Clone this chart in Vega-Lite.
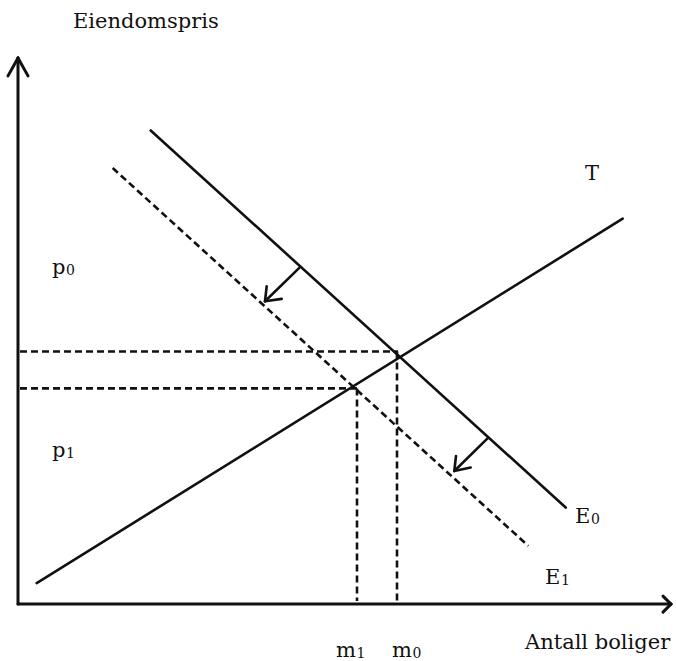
{
  "$schema": "https://vega.github.io/schema/vega-lite/v6.json",
  "width": 676,
  "height": 661,
  "padding": 0,
  "autosize": {"type": "fit", "contains": "padding"},
  "background": "white",
  "config": {"view": {"stroke": null}},
  "datasets": {
    "solid": [
      {"seg": "y-axis", "x1": 0, "y1": 0, "x2": 0, "y2": 109.4, "w": "axis"},
      {"seg": "y-arrow-l", "x1": -2, "y1": 105.8, "x2": 0, "y2": 109.4, "w": "axis"},
      {"seg": "y-arrow-r", "x1": 2, "y1": 105.8, "x2": 0, "y2": 109.4, "w": "axis"},
      {"seg": "x-axis", "x1": 0, "y1": 0, "x2": 130.6, "y2": 0, "w": "axis"},
      {"seg": "x-arrow-u", "x1": 129, "y1": 1.6, "x2": 130.6, "y2": 0, "w": "axis"},
      {"seg": "x-arrow-d", "x1": 129, "y1": -1.6, "x2": 130.6, "y2": 0, "w": "axis"},
      {"seg": "T", "x1": 3.74, "y1": 4.2, "x2": 120.94, "y2": 77.2, "w": "curve"},
      {"seg": "E0", "x1": 26.54, "y1": 94.86, "x2": 109.54, "y2": 19.34, "w": "curve"},
      {"seg": "shift1", "x1": 56.26, "y1": 67.34, "x2": 49.4, "y2": 60.66, "w": "curve"},
      {"seg": "shift1-a", "x1": 49.74, "y1": 63.66, "x2": 49.4, "y2": 60.66, "w": "curve"},
      {"seg": "shift1-b", "x1": 52.74, "y1": 61.14, "x2": 49.4, "y2": 60.66, "w": "curve"},
      {"seg": "shift2", "x1": 94.06, "y1": 33.34, "x2": 87.26, "y2": 26.66, "w": "curve"},
      {"seg": "shift2-a", "x1": 87.6, "y1": 29.66, "x2": 87.26, "y2": 26.66, "w": "curve"},
      {"seg": "shift2-b", "x1": 90.54, "y1": 27.34, "x2": 87.26, "y2": 26.66, "w": "curve"}
    ],
    "dashed": [
      {"seg": "E1", "x1": 18.94, "y1": 87.34, "x2": 102.06, "y2": 11.66},
      {"seg": "p0-line", "x1": 0.4, "y1": 50.6, "x2": 76, "y2": 50.6},
      {"seg": "p1-line", "x1": 0.4, "y1": 43.2, "x2": 67.8, "y2": 43.2},
      {"seg": "m1-line", "x1": 67.8, "y1": 43.2, "x2": 67.8, "y2": 0.6},
      {"seg": "m0-line", "x1": 75.8, "y1": 50.6, "x2": 75.8, "y2": 0.6}
    ],
    "labels": [
      {"label": "Eiendomspris", "x": 11, "y": 115.4},
      {"label": "T", "x": 113.4, "y": 85},
      {"label": "p", "x": 6.8, "y": 66.2},
      {"label": "p", "x": 6.8, "y": 29.4},
      {"label": "E", "x": 111.4, "y": 16.2},
      {"label": "E", "x": 105.4, "y": 4},
      {"label": "m", "x": 63.6, "y": -10.6},
      {"label": "m", "x": 74.8, "y": -10.6},
      {"label": "Antall boliger", "x": 101.4, "y": -9}
    ],
    "subs": [
      {"label": "0", "x": 9.6, "y": 66.0},
      {"label": "1", "x": 9.6, "y": 29.2},
      {"label": "0", "x": 114.6, "y": 16.0},
      {"label": "1", "x": 108.6, "y": 3.8},
      {"label": "1", "x": 67.7, "y": -10.8},
      {"label": "0", "x": 78.9, "y": -10.8}
    ]
  },
  "layer": [
    {
      "data": {"name": "solid"},
      "mark": {"type": "rule", "color": "#111111", "strokeCap": "round"},
      "encoding": {
        "x": {"field": "x1", "type": "quantitative", "scale": {"domain": [-3.6, 131.6], "nice": false, "zero": false}, "axis": null},
        "y": {"field": "y1", "type": "quantitative", "scale": {"domain": [-11.2, 121], "nice": false, "zero": false}, "axis": null},
        "x2": {"field": "x2"},
        "y2": {"field": "y2"},
        "strokeWidth": {"field": "w", "type": "nominal", "scale": {"domain": ["axis", "curve"], "range": [3, 2.6]}, "legend": null}
      }
    },
    {
      "data": {"name": "dashed"},
      "mark": {"type": "rule", "color": "#111111", "strokeWidth": 2.6, "strokeDash": [7, 4]},
      "encoding": {
        "x": {"field": "x1", "type": "quantitative"},
        "y": {"field": "y1", "type": "quantitative"},
        "x2": {"field": "x2"},
        "y2": {"field": "y2"}
      }
    },
    {
      "data": {"name": "labels"},
      "mark": {"type": "text", "align": "left", "baseline": "alphabetic", "font": "DejaVu Serif", "fontSize": 21, "color": "#111111"},
      "encoding": {
        "x": {"field": "x", "type": "quantitative"},
        "y": {"field": "y", "type": "quantitative"},
        "text": {"field": "label"}
      }
    },
    {
      "data": {"name": "subs"},
      "mark": {"type": "text", "align": "left", "baseline": "alphabetic", "font": "DejaVu Serif", "fontSize": 14, "color": "#111111"},
      "encoding": {
        "x": {"field": "x", "type": "quantitative"},
        "y": {"field": "y", "type": "quantitative"},
        "text": {"field": "label"}
      }
    }
  ]
}
